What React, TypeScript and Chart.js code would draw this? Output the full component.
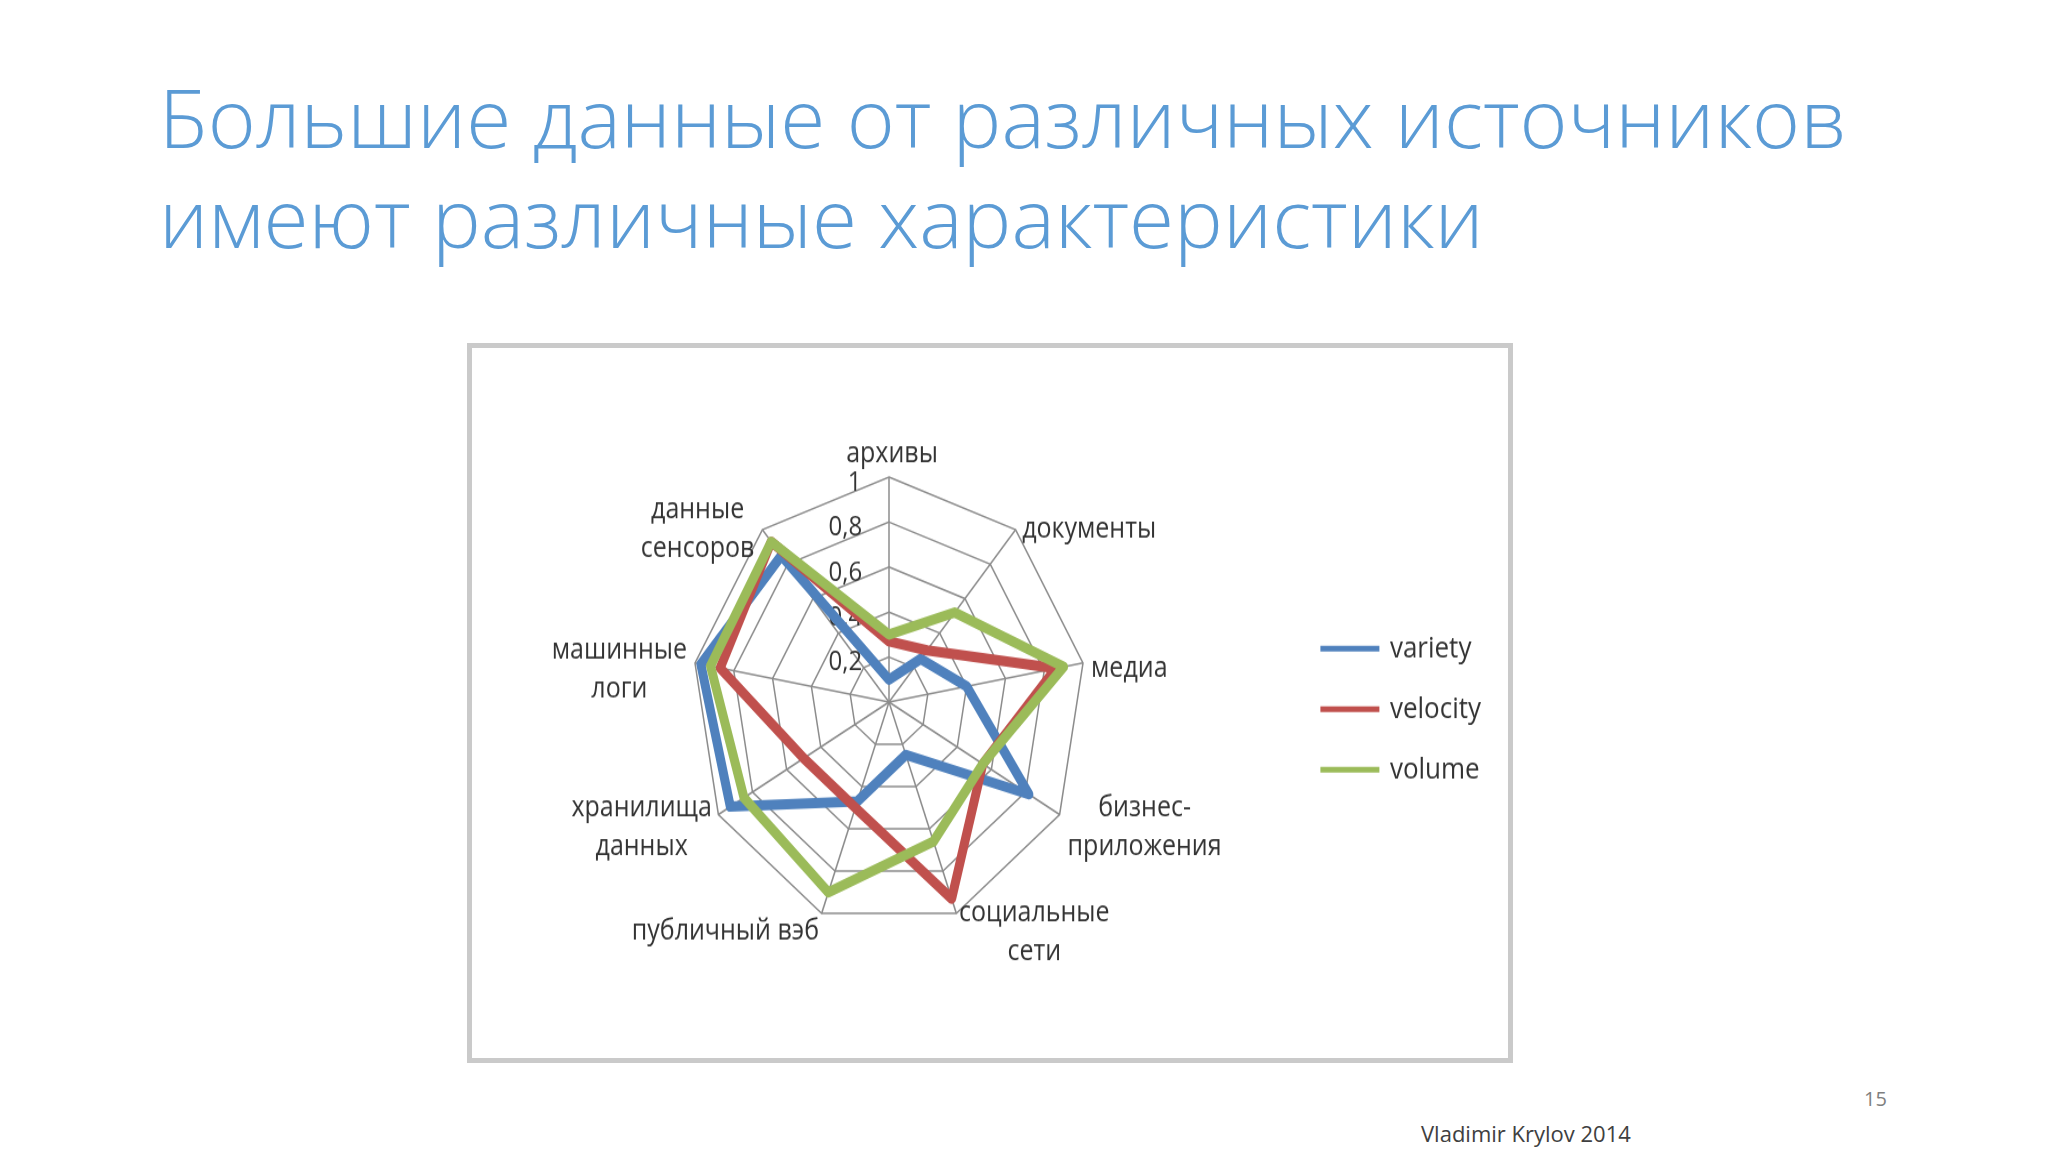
import React, { useEffect, useRef } from 'react';
import { Chart, registerables } from 'chart.js';

Chart.register(...registerables);

// ---- data ----
const categories: (string | string[])[] = [
  'архивы',
  'документы',
  'медиа',
  ['бизнес-', 'приложения'],
  ['социальные', 'сети'],
  'публичный вэб',
  ['хранилища', 'данных'],
  ['машинные', 'логи'],
  ['данные', 'сенсоров'],
];
const seriesNames = ['variety', 'velocity', 'volume'];
const variety = [0.1, 0.25, 0.4, 0.82, 0.25, 0.47, 0.93, 0.97, 0.85];
const velocity = [0.27, 0.3, 0.86, 0.55, 0.93, 0.5, 0.5, 0.87, 0.93];
const volume = [0.3, 0.52, 0.9, 0.55, 0.66, 0.9, 0.85, 0.92, 0.93];
const tickValues = [0, 0.2, 0.4, 0.6, 0.8, 1];
const tickLabels = ['0', '0,2', '0,4', '0,6', '0,8', '1'];

// ---- styling ----
const seriesColors = ['#4F81BD', '#C0504D', '#9BBB59'];
const FONT = '"Open Sans", "DejaVu Sans", sans-serif';
const LABEL_SIZE = 25;
const LABEL_LINE = 34;
// horizontal gap between a category label and its spoke end, and vertical nudge (px)
const labelGap = [3, 6.5, 8, 8, 2.6, 2.6, 6.5, 8, 8];
const labelDy = [-20.6, 0, 4.6, 11.4, 16.6, 16, 11.4, 5.7, 0];

const CANVAS_W = 1036;
const CANVAS_H = 622;
const STRETCH = 1.142;

const categoryLabelPlugin = {
  id: 'categoryLabels',
  afterDatasetsDraw(chart: any) {
    const scale = chart.scales.r;
    const ctx = chart.ctx as CanvasRenderingContext2D;
    ctx.save();
    ctx.font = `${LABEL_SIZE}px ${FONT}`;
    ctx.fillStyle = '#333333';
    ctx.textBaseline = 'middle';
    ctx.textAlign = 'center';
    (chart.data.labels as (string | string[])[]).forEach((lab, i) => {
      const lines = Array.isArray(lab) ? lab : [lab];
      const p = scale.getPointPosition(i, scale.drawingArea);
      const s = Math.sin(scale.getIndexAngle(i));
      const blockW = Math.max(...lines.map((l) => ctx.measureText(l).width));
      const blockH = LABEL_LINE * lines.length;
      let x = p.x;
      if (s > 0.1) x = p.x + labelGap[i] + blockW / 2;
      else if (s < -0.1) x = p.x - labelGap[i] - blockW / 2;
      else x = p.x + labelGap[i];
      const cy = p.y + labelDy[i];
      lines.forEach((ln, k) => {
        ctx.fillText(ln, x, cy - blockH / 2 + LABEL_LINE * (k + 0.5));
      });
    });
    ctx.restore();
  },
};

function RadarChart() {
  const ref = useRef<HTMLCanvasElement | null>(null);

  useEffect(() => {
    if (!ref.current) return;
    const values = [variety, velocity, volume];
    const chart = new Chart(ref.current, {
      type: 'radar',
      data: {
        labels: categories as any,
        datasets: seriesNames.map((name, i) => ({
          label: name,
          data: values[i],
          borderColor: seriesColors[i],
          backgroundColor: seriesColors[i],
          borderWidth: 9,
          borderJoinStyle: 'round' as const,
          fill: false,
          pointRadius: 0,
          pointHoverRadius: 0,
          tension: 0,
          order: 3 - i,
        })),
      },
      options: {
        animation: false,
        responsive: false,
        devicePixelRatio: 1,
        layout: { padding: { left: 12, right: 17, top: 99, bottom: 101 } },
        plugins: {
          legend: {
            position: 'right',
            title: { display: true, text: '', padding: 0, font: { size: 10.5 } },
            labels: {
              usePointStyle: true,
              pointStyle: 'line',
              pointStyleWidth: 54,
              padding: 27,
              color: '#333333',
              font: { family: FONT, size: 26 },
              generateLabels: (c: any) =>
                (Chart.defaults.plugins.legend.labels as any)
                  .generateLabels(c)
                  .map((l: any) => ({ ...l, lineWidth: 5, lineCap: 'square' })),
              sort: (a: any, b: any) => a.datasetIndex - b.datasetIndex,
            },
          },
          tooltip: { enabled: false },
        },
        scales: {
          r: {
            min: 0,
            max: 1,
            afterBuildTicks: (scale: any) => {
              scale.ticks = tickValues.map((v) => ({ value: v }));
            },
            ticks: {
              showLabelBackdrop: false,
              color: '#333333',
              font: { family: FONT, size: 24, lineHeight: '5px' },
              callback: (_v: any, index: number) => {
                const t = tickLabels[index] ?? '';
                return ['', t + ' '.repeat(t.length === 1 ? 11 : 14)];
              },
            },
            grid: { color: '#8c8c8c', lineWidth: 1.5 },
            angleLines: { color: '#8c8c8c', lineWidth: 1.5 },
            pointLabels: { display: false },
          },
        },
      } as any,
      plugins: [categoryLabelPlugin],
    });
    return () => chart.destroy();
  }, []);

  return (
    <div
      style={{
        position: 'absolute',
        left: 472,
        top: 348,
        width: CANVAS_W,
        height: CANVAS_H,
        transform: `scaleY(${STRETCH})`,
        transformOrigin: '0 0',
      }}
    >
      <canvas ref={ref} width={CANVAS_W} height={CANVAS_H} />
    </div>
  );
}

export default function App() {
  return (
    <div
      style={{
        position: 'absolute',
        left: 0,
        top: 0,
        width: 2048,
        height: 1152,
        background: '#ffffff',
        overflow: 'hidden',
        fontFamily: FONT,
      }}
    >
      <div
        style={{
          position: 'absolute',
          left: 159,
          top: 66,
          fontSize: 82,
          lineHeight: '100px',
          fontWeight: 300,
          color: '#5B9BD5',
          whiteSpace: 'nowrap',
        }}
      >
        <div>Большие данные от различных источников</div>
        <div>имеют различные характеристики</div>
      </div>
      <div
        style={{
          position: 'absolute',
          left: 467,
          top: 343,
          width: 1046,
          height: 720,
          boxSizing: 'border-box',
          border: '5px solid #cacaca',
        }}
      />
      <RadarChart />
      <div
        style={{
          position: 'absolute',
          left: 1864,
          top: 1084,
          fontSize: 20,
          lineHeight: '30px',
          color: '#7f7f7f',
        }}
      >
        15
      </div>
      <div
        style={{
          position: 'absolute',
          left: 1421,
          top: 1118,
          fontSize: 22,
          lineHeight: '30px',
          color: '#404040',
          whiteSpace: 'nowrap',
        }}
      >
        Vladimir Krylov 2014
      </div>
    </div>
  );
}
